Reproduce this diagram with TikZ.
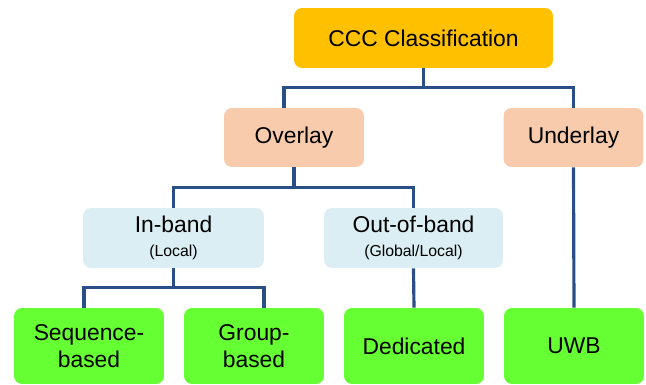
\documentclass[tikz,border=0pt]{standalone}
\usepackage{fontspec}
\setmainfont{Liberation Sans}
\usepackage{xcolor}
\usepackage{tikz}
\usetikzlibrary{positioning}

\definecolor{cccorange}{HTML}{FFC000}
\definecolor{peach}{HTML}{F8CBAD}
\definecolor{paleblue}{HTML}{DAEEF3}
\definecolor{limegreen}{HTML}{66FF33}
\definecolor{linkblue}{HTML}{2A4E86}

\begin{document}
\begin{tikzpicture}[x=0.02cm, y=-0.02cm,
  every node/.style={font=\fontsize{13}{15.5}\selectfont, align=center, inner sep=0pt, rounded corners=0.16cm},
  box/.style={minimum width=2.8cm, minimum height=1.18cm},
  leaf/.style={fill=limegreen, minimum width=2.8cm, minimum height=1.52cm},
  link/.style={draw=linkblue, line width=1.8pt}]
  \useasboundingbox (0,0) rectangle (646,385);

  % Root
  \node[fill=cccorange, minimum width=5.18cm, minimum height=1.2cm] (ccc) at (423.5,38) {CCC Classification};

  % Second level
  \node[box, fill=peach] (ovl) at (294,137.5) {Overlay};
  \node[box, fill=peach] (und) at (573.5,137.5) {Underlay};

  % Third level
  \node[box, fill=paleblue, minimum width=3.62cm, minimum height=1.2cm] (inb) at (173.5,238)
    {In-band\\[-2pt]{\fontsize{9}{10}\selectfont (Local)}};
  \node[box, fill=paleblue, minimum width=3.58cm, minimum height=1.2cm] (oob) at (413.5,238)
    {Out-of-band\\[-2pt]{\fontsize{9}{10}\selectfont (Global/Local)}};

  % Leaves
  \node[leaf, minimum width=3cm] (seq) at (89,346) {Sequence-\\based};
  \node[leaf] (grp) at (254,346) {Group-\\based};
  \node[leaf] (ded) at (414,346) {Dedicated};
  \node[leaf] (uwb) at (574,346) {UWB};

  % Connectors
  \draw[link] (ccc.south) -- ++(0,19) -| ([xshift=-0.2cm]ovl.north);
  \draw[link] (ccc.south) -- ++(0,19) -| (und.north);
  \draw[link] (ovl.south) -- ++(0,20) -| (inb.north);
  \draw[link] (ovl.south) -- ++(0,20) -| (oob.north);
  \draw[link] (inb.south) -- ++(0,19) -| ([xshift=-0.1cm]seq.north);
  \draw[link] (inb.south) -- ++(0,19) -| ([xshift=0.2cm]grp.north);
  \draw[link] (oob.south) -- (ded.north);
  \draw[link] (und.south) -- (uwb.north);
\end{tikzpicture}
\end{document}
